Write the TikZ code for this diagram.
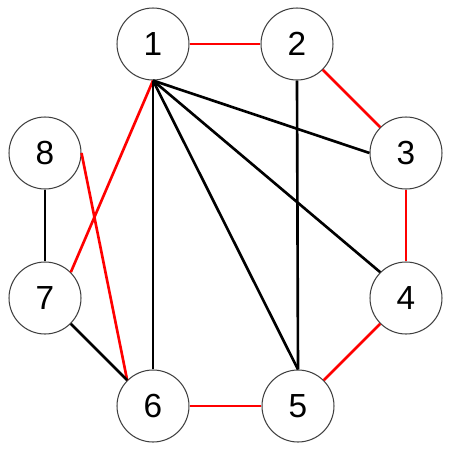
\documentclass[tikz,border=0pt]{standalone}
\usepackage{fontspec}
\setmainfont{Liberation Sans}
\begin{document}
\begin{tikzpicture}[x=0.02cm, y=-0.02cm,
                vertex/.style={circle, draw=black!75, line width=0.6pt, minimum size=1.44cm, inner sep=0pt, font=\fontsize{19}{22}\selectfont},
                redge/.style={red, line width=1.5pt},
                bedge/.style={black, line width=1.5pt}]
                \useasboundingbox (0,0) rectangle (451,451);
                \node[vertex] (v1) at (153,44) {1};
                \node[vertex] (v2) at (297,44) {2};
                \node[vertex] (v3) at (406,153) {3};
                \node[vertex] (v4) at (406,298) {4};
                \node[vertex] (v5) at (298,406) {5};
                \node[vertex] (v6) at (153,406) {6};
                \node[vertex] (v7) at (45,298) {7};
                \node[vertex] (v8) at (45,153) {8};
                % red cycle and chords
                \draw[redge] (v1.east) -- (v2.west);
                \draw[redge] (v2.south east) -- (v3.north west);
                \draw[redge] (v3.south) -- (v4.north);
                \draw[redge] (v4.south west) -- (v5.north east);
                \draw[redge] (v5.west) -- (v6.east);
                \draw[redge] (v1.south) -- (v7.north east);
                \draw[redge] (v8.east) -- (v6.north west);
                % black edges
                \draw[bedge] (v1.south) -- (v3.west);
                \draw[bedge] (v1.south) -- (v4.north west);
                \draw[bedge] (v1.south) -- (v5.north);
                \draw[bedge] (v1.south) -- (v6.north);
                \draw[bedge] (v2.south) -- (v5.north);
                \draw[bedge] (v8.south) -- (v7.north);
                \draw[bedge] (v7.south east) -- (v6.north west);
            \end{tikzpicture}
\end{document}
